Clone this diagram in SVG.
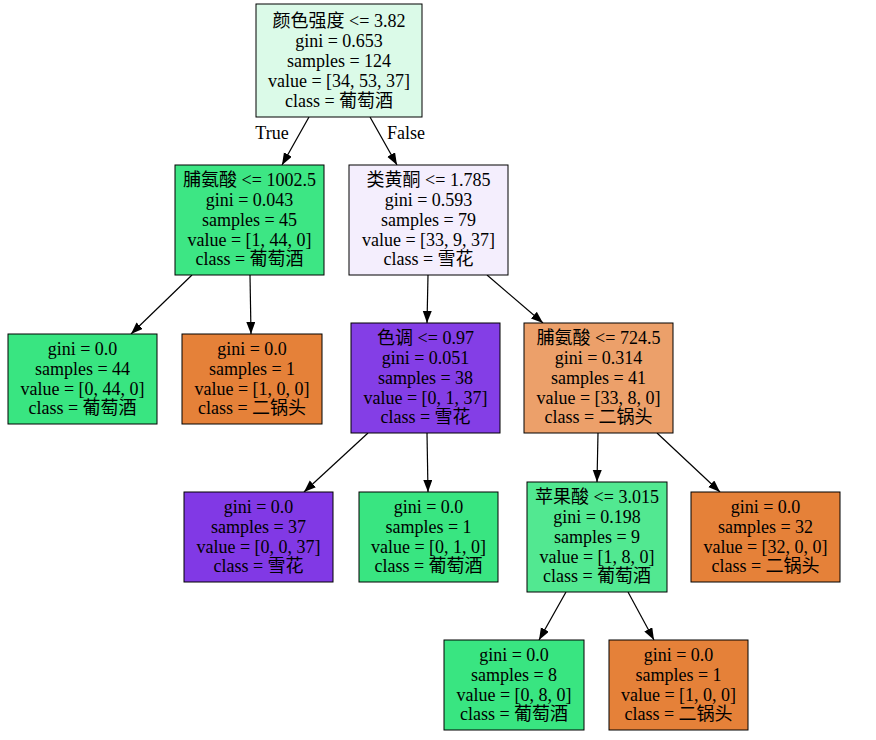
<svg xmlns="http://www.w3.org/2000/svg" width="876" height="740" viewBox="0 0 876 740">
<style>
.n{stroke:#000;stroke-width:1}
text{font-family:"Liberation Serif","Noto Sans CJK SC",serif;font-size:18px;text-anchor:middle;fill:#000}
.e{stroke:#000;stroke-width:1.2;fill:none;marker-end:url(#ah)}
</style>
<defs>
<marker id="ah" markerUnits="userSpaceOnUse" markerWidth="13" markerHeight="10" refX="12" refY="4.5" orient="auto" viewBox="0 0 13 10">
<path d="M0,0 L12,4.5 L0,9 z" fill="#000"/>
</marker>
</defs>
<rect width="876" height="740" fill="#fff"/>
<g id="edges">
<line class="e" x1="309" y1="117" x2="282" y2="165"/>
<line class="e" x1="370" y1="117" x2="397" y2="165"/>
<line class="e" x1="192" y1="275" x2="131" y2="334"/>
<line class="e" x1="250" y1="275" x2="251" y2="334"/>
<line class="e" x1="428" y1="275" x2="427" y2="323"/>
<line class="e" x1="487" y1="275" x2="543" y2="323"/>
<line class="e" x1="368" y1="433" x2="304" y2="492"/>
<line class="e" x1="427" y1="433" x2="428" y2="492"/>
<line class="e" x1="598" y1="433" x2="597" y2="482"/>
<line class="e" x1="657" y1="433" x2="720" y2="492"/>
<line class="e" x1="566" y1="592" x2="539" y2="640"/>
<line class="e" x1="628" y1="592" x2="654" y2="640"/>
<text x="272" y="139">True</text>
<text x="406" y="139">False</text>
</g>
<g id="node0">
<rect class="n" x="256" y="4" width="166" height="113" fill="#dbfae8"/>
<text x="339" y="27">颜色强度 &lt;= 3.82</text>
<text x="339" y="47">gini = 0.653</text>
<text x="339" y="67">samples = 124</text>
<text x="339" y="87">value = [34, 53, 37]</text>
<text x="339" y="107">class = 葡萄酒</text>
</g>
<g id="node1">
<rect class="n" x="175" y="165" width="149" height="110" fill="#3de684"/>
<text x="249.5" y="186">脯氨酸 &lt;= 1002.5</text>
<text x="249.5" y="206">gini = 0.043</text>
<text x="249.5" y="226">samples = 45</text>
<text x="249.5" y="246">value = [1, 44, 0]</text>
<text x="249.5" y="265">class = 葡萄酒</text>
</g>
<g id="node2">
<rect class="n" x="349" y="165" width="159" height="110" fill="#f4eefd"/>
<text x="428.5" y="186">类黄酮 &lt;= 1.785</text>
<text x="428.5" y="206">gini = 0.593</text>
<text x="428.5" y="226">samples = 79</text>
<text x="428.5" y="246">value = [33, 9, 37]</text>
<text x="428.5" y="265">class = 雪花</text>
</g>
<g id="node3">
<rect class="n" x="8" y="334" width="149" height="90" fill="#39e581"/>
<text x="82.5" y="355">gini = 0.0</text>
<text x="82.5" y="375">samples = 44</text>
<text x="82.5" y="395">value = [0, 44, 0]</text>
<text x="82.5" y="414">class = 葡萄酒</text>
</g>
<g id="node4">
<rect class="n" x="182" y="334" width="140" height="90" fill="#e58139"/>
<text x="252" y="355">gini = 0.0</text>
<text x="252" y="375">samples = 1</text>
<text x="252" y="395">value = [1, 0, 0]</text>
<text x="252" y="414">class = 二锅头</text>
</g>
<g id="node5">
<rect class="n" x="351" y="323" width="149" height="110" fill="#843ee6"/>
<text x="425.5" y="344">色调 &lt;= 0.97</text>
<text x="425.5" y="364">gini = 0.051</text>
<text x="425.5" y="384">samples = 38</text>
<text x="425.5" y="404">value = [0, 1, 37]</text>
<text x="425.5" y="423">class = 雪花</text>
</g>
<g id="node6">
<rect class="n" x="524" y="323" width="149" height="110" fill="#eca06a"/>
<text x="598.5" y="344">脯氨酸 &lt;= 724.5</text>
<text x="598.5" y="364">gini = 0.314</text>
<text x="598.5" y="384">samples = 41</text>
<text x="598.5" y="404">value = [33, 8, 0]</text>
<text x="598.5" y="423">class = 二锅头</text>
</g>
<g id="node7">
<rect class="n" x="184" y="492" width="149" height="90" fill="#8139e5"/>
<text x="258.5" y="513">gini = 0.0</text>
<text x="258.5" y="533">samples = 37</text>
<text x="258.5" y="553">value = [0, 0, 37]</text>
<text x="258.5" y="572">class = 雪花</text>
</g>
<g id="node8">
<rect class="n" x="359" y="492" width="139" height="90" fill="#39e581"/>
<text x="428.5" y="513">gini = 0.0</text>
<text x="428.5" y="533">samples = 1</text>
<text x="428.5" y="553">value = [0, 1, 0]</text>
<text x="428.5" y="572">class = 葡萄酒</text>
</g>
<g id="node9">
<rect class="n" x="527" y="482" width="140" height="110" fill="#52e891"/>
<text x="597" y="503">苹果酸 &lt;= 3.015</text>
<text x="597" y="523">gini = 0.198</text>
<text x="597" y="543">samples = 9</text>
<text x="597" y="563">value = [1, 8, 0]</text>
<text x="597" y="582">class = 葡萄酒</text>
</g>
<g id="node10">
<rect class="n" x="691" y="492" width="149" height="90" fill="#e58139"/>
<text x="765.5" y="513">gini = 0.0</text>
<text x="765.5" y="533">samples = 32</text>
<text x="765.5" y="553">value = [32, 0, 0]</text>
<text x="765.5" y="572">class = 二锅头</text>
</g>
<g id="node11">
<rect class="n" x="444" y="640" width="140" height="90" fill="#39e581"/>
<text x="514" y="661">gini = 0.0</text>
<text x="514" y="681">samples = 8</text>
<text x="514" y="701">value = [0, 8, 0]</text>
<text x="514" y="720">class = 葡萄酒</text>
</g>
<g id="node12">
<rect class="n" x="609" y="640" width="139" height="90" fill="#e58139"/>
<text x="678.5" y="661">gini = 0.0</text>
<text x="678.5" y="681">samples = 1</text>
<text x="678.5" y="701">value = [1, 0, 0]</text>
<text x="678.5" y="720">class = 二锅头</text>
</g>
</svg>
